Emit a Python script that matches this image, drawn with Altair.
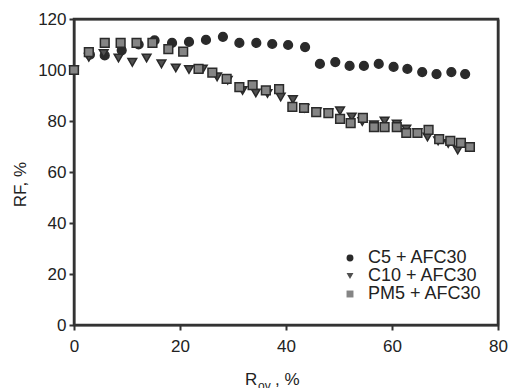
import altair as alt
import pandas as pd

series_names = ["C5 + AFC30", "C10 + AFC30", "PM5 + AFC30"]

c5_x = [0, 3, 5.8, 9, 12.2, 15.2, 18.5, 21.7, 24.9, 28.1, 31.2, 34.4, 37.4, 40.4, 43.6,
        46.4, 49.3, 52, 54.7, 57.5, 60.3, 62.9, 65.7, 68.4, 71.2, 73.8]
c5_y = [100, 106, 105.7, 107.7, 110, 111.6, 110.6, 111, 111.8, 113, 110.6, 110.6, 110.2, 109.8, 109,
        102.4, 103.1, 101.6, 101.6, 102.4, 101.2, 100.4, 99.2, 98.4, 99.2, 98.4]

c10_x = [0, 2.8, 5.6, 8.4, 11, 13.7, 16.5, 19.2, 21.7, 24.3, 27, 29, 31.8, 34.3, 36.5, 39, 41.3,
         43.5, 45.8, 48, 50.2, 52.4, 54.4, 56.6, 58.6, 60.9, 62.7, 64.8, 66.7, 68.7, 70.6, 72.4, 74.6]
c10_y = [100, 105, 106.5, 104.7, 103, 104.7, 102.4, 100.8, 100.2, 100.4, 97.3, 96, 92, 91, 90.8, 89.4, 88.4,
         85, 83.6, 83.2, 84, 81.6, 79.8, 78.5, 80, 78.8, 76.9, 75.5, 73.7, 72.2, 71.2, 68.6, 69.8]

pm5_x = [0, 2.8, 5.8, 8.8, 11.8, 14.8, 17.8, 20.6, 23.5, 26.1, 28.8, 31.2, 33.7, 36.2, 38.7, 41.2,
         43.4, 45.7, 48, 50.2, 52.2, 54.5, 56.6, 58.6, 60.9, 62.7, 64.8, 66.9, 68.9, 71, 73, 74.7]
pm5_y = [100, 107, 110.6, 110.6, 110.6, 110.6, 108.2, 107.2, 100.4, 99, 96.5, 93.3, 94.1, 92, 92.5, 85.5,
         85.1, 83.5, 83.1, 80.8, 79.2, 81.2, 77.6, 77.6, 77.6, 75.3, 75.3, 76.5, 72.9, 72.2, 71.4, 69.8]

x_ticks = [0, 20, 40, 60, 80]
y_ticks = [0, 20, 40, 60, 80, 100, 120]
x_domain = [0, 80]
y_domain = [0, 120]

rows = []
for name, xs_, ys_ in zip(series_names, [c5_x, c10_x, pm5_x], [c5_y, c10_y, pm5_y]):
    for xv, yv in zip(xs_, ys_):
        rows.append({"series": name, "R": xv, "RF": yv})
df = pd.DataFrame(rows)

FONT = "Liberation Sans"
TXT = "#222222"
LINE = "#333333"

legend = alt.Legend(title=None, orient="none", legendX=267, legendY=230,
                    symbolSize=48, symbolStrokeWidth=0, labelFontSize=18,
                    labelColor=TXT, labelFont=FONT, rowPadding=0, padding=0,
                    labelOffset=9)

xs = alt.Scale(domain=x_domain, nice=False)
ys = alt.Scale(domain=y_domain, nice=False)

points = alt.Chart(df).mark_point(filled=True, size=76, stroke="#2a2a2a", strokeWidth=1.5, opacity=1).encode(
    x=alt.X("R:Q", scale=xs,
            axis=alt.Axis(values=x_ticks, title=None, labelPadding=8, labelFlush=False)),
    y=alt.Y("RF:Q", scale=ys,
            axis=alt.Axis(values=y_ticks, title="RF, %", titleAngle=-90, titleX=-49, titleY=165,
                          titleAlign="center", titleBaseline="alphabetic", labelPadding=3,
                          labelFlush=False)),
    fill=alt.Fill("series:N", sort=series_names,
                  scale=alt.Scale(domain=series_names, range=["#2a2a2a", "#505050", "#858585"]),
                  legend=legend),
    shape=alt.Shape("series:N", sort=series_names,
                    scale=alt.Scale(domain=series_names, range=["circle", "triangle-down", "square"]),
                    legend=legend),
)

# top and right frame edges as secondary axes without labels
frame_top = alt.Chart(df).mark_point(opacity=0).encode(
    x=alt.X("R:Q", scale=xs, axis=alt.Axis(orient="top", values=x_ticks, labels=False, ticks=False,
                                           title=None, domainColor=LINE, domainWidth=2)),
)
frame_right = alt.Chart(df).mark_point(opacity=0).encode(
    y=alt.Y("RF:Q", scale=ys, axis=alt.Axis(orient="right", values=y_ticks, labels=False, ticks=False,
                                            title=None, domainColor=LINE, domainWidth=2)),
)

t_r = alt.Chart(alt.Data(values=[{}])).mark_text(text="R", font=FONT, fontSize=17, color=TXT,
                                                  align="left", baseline="alphabetic").encode(
    x=alt.value(171), y=alt.value(366))
t_ov = alt.Chart(alt.Data(values=[{}])).mark_text(text="ov", font=FONT, fontSize=12, color=TXT,
                                                   align="left", baseline="alphabetic").encode(
    x=alt.value(184), y=alt.value(371))
t_pc = alt.Chart(alt.Data(values=[{}])).mark_text(text=",  %", font=FONT, fontSize=17, color=TXT,
                                                   align="left", baseline="alphabetic").encode(
    x=alt.value(201), y=alt.value(366))

chart = alt.layer(points, frame_top, frame_right, t_r, t_ov, t_pc).resolve_axis(
    x="independent", y="independent"
).properties(
    width=424, height=306,
    autosize=alt.AutoSizeParams(type="none"),
    padding={"left": 66, "top": 11, "right": 10, "bottom": 63},
).configure_view(
    stroke=LINE, strokeWidth=2.5
).configure_axis(
    domainColor=LINE, domainWidth=2, tickColor=LINE, tickWidth=2, tickSize=5,
    labelFont=FONT, labelFontSize=17, labelColor=TXT, titleFont=FONT, titleFontSize=17,
    titleColor=TXT, titleFontWeight="normal", grid=False
)

chart.save("out.html", embed_options={"renderer": "svg", "actions": False})
